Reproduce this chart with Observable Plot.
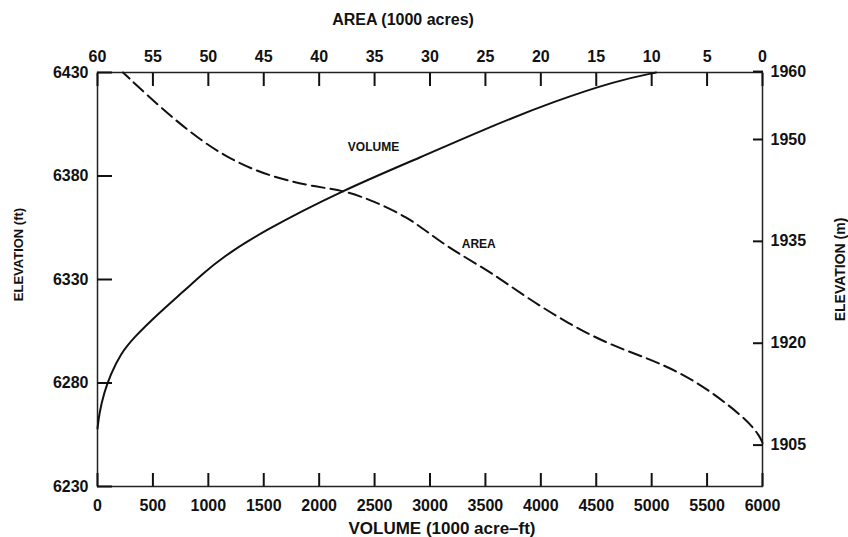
<!DOCTYPE html>
<html>
<head>
<meta charset="utf-8">
<script src="https://cdn.jsdelivr.net/npm/d3@7"></script>
<script src="https://cdn.jsdelivr.net/npm/@observablehq/plot@0.6"></script>
<style>
  html, body { margin: 0; padding: 0; background: #fff; }
</style>
</head>
<body>
<div id="chart"></div>
<script>
// ---- data ----
const volumeTicks = [0, 500, 1000, 1500, 2000, 2500, 3000, 3500, 4000, 4500, 5000, 5500, 6000];
const areaTicks = [60, 55, 50, 45, 40, 35, 30, 25, 20, 15, 10, 5, 0];
const feetTicks = [6230, 6280, 6330, 6380, 6430];
const meterTicks = [1905, 1920, 1935, 1950, 1960];

// VOLUME curve (1000 acre-ft) vs elevation (ft)
const volumeElev = [6258, 6265, 6275, 6284, 6294, 6302, 6313, 6324, 6333, 6340, 6353, 6373, 6389, 6404, 6416, 6426, 6430];
const volumeVal  = [0, 15, 57, 117, 207, 328, 538, 770, 955, 1110, 1480, 2208, 2914, 3550, 4117, 4680, 5040];

// AREA curve (1000 acres) vs elevation (ft)
const areaElev = [6251, 6254, 6262, 6275, 6285, 6292, 6299, 6309, 6321, 6333.5, 6344, 6352, 6360, 6368, 6373, 6374.5, 6379, 6389, 6407, 6430];
const areaVal  = [0, 0.2, 1.35, 4.4, 7.4, 10.4, 14.0, 17.6, 21.2, 24.5, 27.9, 30.0, 32.0, 35.1, 37.8, 40.0, 44.1, 48.6, 53.1, 57.7];

const curveLabels = ["VOLUME", "AREA"];
const labelVolume = [2490, null];
const labelArea = [null, 25.6];
const labelElev = [6394, 6347];

// ---- tables built from the arrays ----
const AREA_MAX = 60;            // top axis: 60 (left) .. 0 (right)
const VOL_PER_AREA = 100;       // 6000 acre-ft span <-> 60 acre span
const areaToX = a => (AREA_MAX - a) * VOL_PER_AREA;
const FT_PER_M = 1 / 0.3048;
const X_DOMAIN = [0, 6000], Y_DOMAIN = [6230, 6430];

const volumeData = volumeElev.map((e, i) => ({elev: e, vol: volumeVal[i]}));
const areaData = areaElev.map((e, i) => ({elev: e, area: areaVal[i]}));
const labelData = curveLabels.map((t, i) => ({
  text: t,
  x: labelVolume[i] != null ? labelVolume[i] : areaToX(labelArea[i]),
  elev: labelElev[i]
}));

const W = 848, H = 537, ML = 97, MR = 86, MT = 72, MB = 51;

const chart = Plot.plot({
  width: W,
  height: H,
  marginLeft: ML,
  marginRight: MR,
  marginTop: MT,
  marginBottom: MB,
  style: {fontFamily: "'Liberation Sans', Arial, sans-serif", fontWeight: "bold", fontSize: "16px", color: "#111", background: "#fff"},
  x: {domain: X_DOMAIN},
  y: {domain: Y_DOMAIN},
  marks: [
    Plot.frame({stroke: "#222", strokeWidth: 1.5}),
    // axes with inward ticks (negative tick size) and outside labels
    Plot.axisX(volumeTicks, {anchor: "bottom", tickSize: -13, tickPadding: 26, label: null, stroke: "#111", strokeWidth: 2, tickFormat: d => String(d)}),
    Plot.axisX(areaTicks.map(areaToX), {anchor: "top", tickSize: -13, tickPadding: 24, label: null, stroke: "#111", strokeWidth: 2,
      tickFormat: v => String(Math.round(AREA_MAX - v / VOL_PER_AREA))}),
    Plot.axisY(feetTicks, {anchor: "left", tickSize: -15, tickPadding: 24, label: null, stroke: "#111", strokeWidth: 2, tickFormat: d => String(d)}),
    Plot.axisY(meterTicks.map(m => m * FT_PER_M), {anchor: "right", tickSize: -10, tickPadding: 18, label: null, stroke: "#111", strokeWidth: 2,
      tickFormat: v => String(Math.round(v / FT_PER_M))}),
    // curves
    Plot.line(volumeData, {x: "vol", y: "elev", curve: "basis", stroke: "#111", strokeWidth: 2}),
    Plot.line(areaData, {x: d => areaToX(d.area), y: "elev", curve: "basis", stroke: "#111", strokeWidth: 2, strokeDasharray: "13,6"}),
    Plot.text(labelData, {x: "x", y: "elev", text: "text", fontSize: 12, fontWeight: "bold", fill: "#111"}),
    // axis titles
    Plot.text(["AREA (1000 acres)"], {frameAnchor: "top", textAnchor: "middle", lineAnchor: "middle", dx: -27, dy: -53, fontSize: 16, fontWeight: "bold", fill: "#111"}),
    Plot.text(["VOLUME (1000 acre\u2013ft)"], {frameAnchor: "bottom", textAnchor: "middle", lineAnchor: "middle", dx: 12, dy: 42, fontSize: 17, fontWeight: "bold", fill: "#111"}),
    Plot.text(["ELEVATION (ft)"], {frameAnchor: "left", textAnchor: "middle", lineAnchor: "middle", dx: -79, dy: -25, rotate: -90, fontSize: 13, fontWeight: "bold", fill: "#111"}),
    Plot.text(["ELEVATION (m)"], {frameAnchor: "right", textAnchor: "middle", lineAnchor: "middle", dx: 78, dy: -10, rotate: -90, fontSize: 14, fontWeight: "bold", fill: "#111"})
  ]
});
document.getElementById("chart").appendChild(chart);
</script>
</body>
</html>
